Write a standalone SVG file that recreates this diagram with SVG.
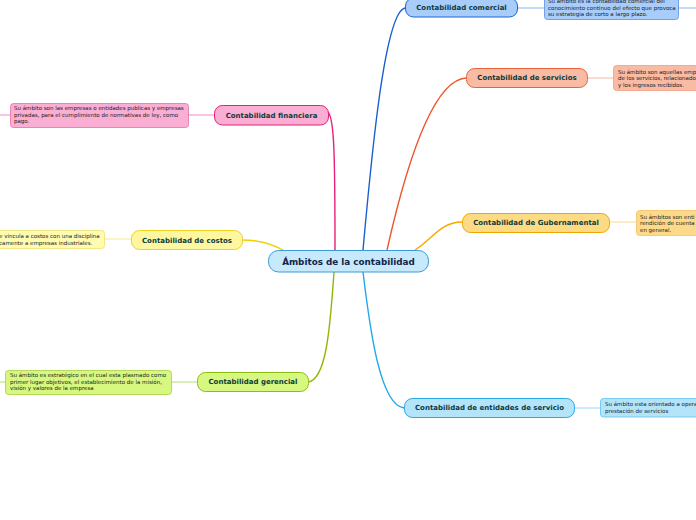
<svg xmlns="http://www.w3.org/2000/svg" width="696" height="520" viewBox="0 0 696 520">
<style>
.lbl{font-family:"DejaVu Sans",Verdana,sans-serif;font-weight:bold;font-size:7px;fill:#0e3a3a;text-anchor:middle;dominant-baseline:central}
.main{font-family:"DejaVu Sans",Verdana,sans-serif;font-weight:bold;font-size:8.8px;fill:#14244a;text-anchor:middle;dominant-baseline:central}
.note{font-family:"DejaVu Sans",Verdana,sans-serif;font-size:5.5px;fill:#1a1a1a}
.c{fill:none;stroke-width:1.4}
.t{fill:none;stroke-width:1}
</style>
<rect width="696" height="520" fill="#ffffff"/>
<g id="connectors">
<path class="c" stroke="#1a5fcc" d="M363,250 C372,150 385,12 405,8"/>
<path class="c" stroke="#f0552a" d="M387,250 C405,170 432,80 466,78"/>
<path class="c" stroke="#e8207a" d="M328,112 C334,118 335,150 335,250"/>
<path class="c" stroke="#f5a800" d="M415,250 C432,240 440,222 462,222"/>
<path class="c" stroke="#f0d000" d="M242,240 C260,240 272,244 283,250"/>
<path class="c" stroke="#90b800" d="M334,272 C330,330 326,380 308,382"/>
<path class="c" stroke="#20a8e8" d="M363,272 C370,330 380,405 404,408"/>
<path class="t" stroke="#8ab4f0" d="M517,8 H544 M678,8 H696"/>
<path class="t" stroke="#f7b7a0" d="M587,78 H613"/>
<path class="t" stroke="#f08cc0" d="M188,115 H214 M0,115 H10"/>
<path class="t" stroke="#f5ea90" d="M104,239 H131"/>
<path class="t" stroke="#fad890" d="M609,222 H636"/>
<path class="t" stroke="#b8dc70" d="M171,382 H197 M0,382 H5"/>
<path class="t" stroke="#9ad8f5" d="M574,408 H600"/>
</g>
<g id="central">
<rect x="268.5" y="250.5" width="160" height="21.5" rx="10" fill="#c6eafb" stroke="#3a9ad9" stroke-width="1"/>
<text class="main" x="348.5" y="261.5">Ámbitos de la contabilidad</text>
</g>
<g id="comercial">
<rect x="405.5" y="-2" width="112" height="19" rx="8" fill="#a8cdfb" stroke="#1a66cc" stroke-width="1"/>
<text class="lbl" x="461.5" y="7.5">Contabilidad comercial</text>
</g>
<g id="comercial-note">
<rect x="544.5" y="-5" width="134" height="24.5" rx="3" fill="#a8cdfb" stroke="#5a8ee0" stroke-width="0.8"/>
<text class="note" x="548" y="3">Su ámbito es la contabilidad comercial del</text>
<text class="note" x="548" y="9.5">conocimiento continuo del efecto que provoca</text>
<text class="note" x="548" y="16">su estrategia de corto a largo plazo.</text>
</g>
<g id="servicios">
<rect x="466.5" y="68.5" width="121" height="19" rx="8" fill="#f9bba3" stroke="#e8643a" stroke-width="1"/>
<text class="lbl" x="527" y="78">Contabilidad de servicios</text>
</g>
<g id="servicios-note">
<rect x="613.5" y="65.5" width="90" height="25" rx="3" fill="#f9bba3" stroke="#f0a080" stroke-width="0.8"/>
<text class="note" x="618" y="73.5">Su ámbito son aquellas emp</text>
<text class="note" x="618" y="80">de los servicios, relacionado</text>
<text class="note" x="618" y="86.5">y los ingresos recibidos.</text>
</g>
<g id="financiera">
<rect x="214.5" y="105.5" width="114" height="19.5" rx="8" fill="#fbaed4" stroke="#e0207a" stroke-width="1"/>
<text class="lbl" x="271.5" y="115.5">Contabilidad financiera</text>
</g>
<g id="financiera-note">
<rect x="10.5" y="103.5" width="178" height="24" rx="3" fill="#fbaed4" stroke="#e070a8" stroke-width="0.8"/>
<text class="note" x="14" y="110">Su ámbito son las empresas o entidades publicas y empresas</text>
<text class="note" x="14" y="116.5">privadas, para el cumplimiento de normativas de ley, como</text>
<text class="note" x="14" y="123">pago.</text>
</g>
<g id="costos">
<rect x="131.5" y="230.5" width="111" height="19" rx="8" fill="#fff7a0" stroke="#f0d020" stroke-width="1"/>
<text class="lbl" x="187" y="240.5">Contabilidad de costos</text>
</g>
<g id="costos-note">
<rect x="-10" y="230.5" width="114.5" height="18" rx="3" fill="#fffbb0" stroke="#f0e070" stroke-width="0.8"/>
<text class="note" x="-1" y="238">e vincula a costos con una disciplina</text>
<text class="note" x="-1" y="244.5">camente a empresas industriales.</text>
</g>
<g id="gubernamental">
<rect x="462.5" y="213.5" width="147" height="19" rx="8" fill="#fddb85" stroke="#f0a800" stroke-width="1"/>
<text class="lbl" x="536" y="223">Contabilidad de Gubernamental</text>
</g>
<g id="gubernamental-note">
<rect x="636.5" y="210.5" width="70" height="25" rx="3" fill="#fdd98a" stroke="#f5c060" stroke-width="0.8"/>
<text class="note" x="640" y="218.5">Su ámbitos son enti</text>
<text class="note" x="640" y="225">rendición de cuenta</text>
<text class="note" x="640" y="231.5">en general.</text>
</g>
<g id="gerencial">
<rect x="197.5" y="372.5" width="111" height="19" rx="8" fill="#d6f880" stroke="#8cc010" stroke-width="1"/>
<text class="lbl" x="253" y="382">Contabilidad gerencial</text>
</g>
<g id="gerencial-note">
<rect x="5.5" y="370.5" width="166" height="24" rx="3" fill="#d6f880" stroke="#a8d040" stroke-width="0.8"/>
<text class="note" x="10" y="377">Su ámbito es estratégico en el cual esta plasmado como</text>
<text class="note" x="10" y="383.5">primer lugar objetivos, el establecimiento de la misión,</text>
<text class="note" x="10" y="390">visión y valores de la empresa</text>
</g>
<g id="entidades">
<rect x="404.5" y="398.5" width="170" height="19" rx="8" fill="#b4e4fa" stroke="#2aa8e0" stroke-width="1"/>
<text class="lbl" x="489.5" y="408">Contabilidad de entidades de servicio</text>
</g>
<g id="entidades-note">
<rect x="600.5" y="398.5" width="100" height="18.5" rx="3" fill="#b4e4fa" stroke="#60c0ea" stroke-width="0.8"/>
<text class="note" x="605" y="406">Su ámbito esta orientado a opera</text>
<text class="note" x="605" y="412.5">prestación de servicios</text>
</g>
</svg>
